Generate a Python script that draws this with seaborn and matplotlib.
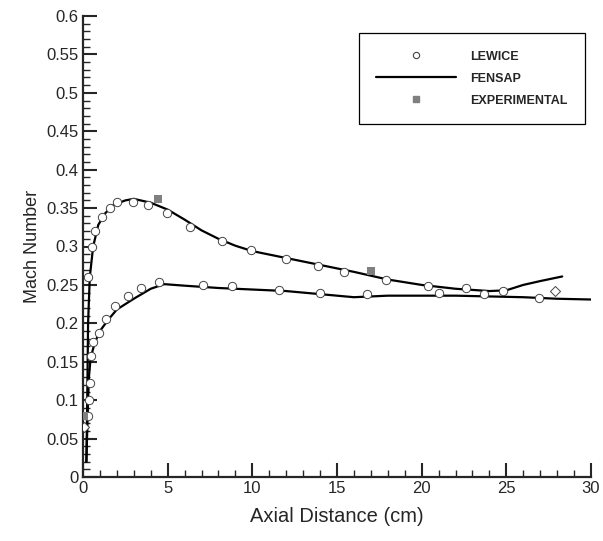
import numpy as np
import pandas as pd
import matplotlib
matplotlib.use('Agg')
import matplotlib.pyplot as plt
from matplotlib.lines import Line2D
import seaborn as sns

# FENSAP 곡선 (위쪽 / 아래쪽)
fensap_up_x = [0.2, 0.25, 0.3, 0.4, 0.6, 0.9, 1.3, 1.8, 2.5, 3.0, 4.0, 5.0, 6.0, 7.0, 8.0, 9.0, 10.0, 12.0,
               14.0, 16.0, 18.0, 20.0, 22.0, 24.0, 25.0, 26.0, 27.0, 28.3]
fensap_up_y = [0.02, 0.10, 0.20, 0.26, 0.30, 0.328, 0.343, 0.354, 0.360, 0.362, 0.357, 0.348, 0.335, 0.321,
               0.310, 0.301, 0.294, 0.285, 0.276, 0.267, 0.257, 0.250, 0.245, 0.242, 0.243, 0.250, 0.255, 0.261]
fensap_lo_x = [0.2, 0.25, 0.3, 0.35, 0.45, 0.7, 1.0, 1.5, 2.0, 3.0, 4.0, 4.8, 6.0, 8.0, 10.0, 12.0, 14.0,
               16.0, 18.0, 20.0, 22.0, 24.0, 26.0, 28.0, 30.0]
fensap_lo_y = [0.02, 0.06, 0.10, 0.13, 0.155, 0.175, 0.19, 0.205, 0.218, 0.232, 0.245, 0.251, 0.249, 0.246,
               0.244, 0.242, 0.238, 0.234, 0.236, 0.236, 0.236, 0.235, 0.234, 0.232, 0.231]

# LEWICE 점
lewice_x = [0.3, 0.53, 0.71, 1.12, 1.6, 2.0, 2.95, 3.84, 4.96, 6.3, 8.2, 9.9, 12.0, 13.9, 15.4, 17.9,
            20.4, 22.6, 24.8,
            0.3, 0.35, 0.4, 0.45, 0.6, 0.94, 1.36, 1.9, 2.66, 3.43, 4.5, 7.1, 8.8, 11.6, 14.0, 16.8,
            21.0, 23.7, 26.9]
lewice_y = [0.26, 0.30, 0.32, 0.338, 0.350, 0.358, 0.358, 0.354, 0.344, 0.325, 0.307, 0.296, 0.284,
            0.275, 0.267, 0.256, 0.248, 0.246, 0.242,
            0.08, 0.10, 0.122, 0.157, 0.176, 0.187, 0.206, 0.222, 0.236, 0.246, 0.254, 0.250, 0.248,
            0.243, 0.239, 0.238, 0.239, 0.238, 0.233]
diamond_x = [0.03, 27.9]
diamond_y = [0.065, 0.242]

# 실험값
exp_x = [0.05, 4.43, 17.0]
exp_y = [0.08, 0.362, 0.268]

sns.set_style('ticks')
plt.rcParams['font.family'] = ['Liberation Sans', 'DejaVu Sans']

fig = plt.figure(figsize=(6.03, 5.41), dpi=100)
ax = fig.add_axes([83 / 603, 1 - 477 / 541, (591 - 83) / 603, (477 - 16) / 541])

fensap_df = pd.DataFrame({
    'x': fensap_up_x + fensap_lo_x,
    'y': fensap_up_y + fensap_lo_y,
    'curve': ['up'] * len(fensap_up_x) + ['lo'] * len(fensap_lo_x),
})
sns.lineplot(data=fensap_df, x='x', y='y', units='curve', estimator=None, sort=False,
             color='black', linewidth=1.6, ax=ax, zorder=2)
sns.scatterplot(x=lewice_x, y=lewice_y, marker='o', s=36, facecolors='white',
                edgecolor='#444444', linewidth=0.7, ax=ax, zorder=3)
sns.scatterplot(x=diamond_x, y=diamond_y, marker='D', s=26, facecolors='white',
                edgecolor='#444444', linewidth=0.7, ax=ax, zorder=3)
sns.scatterplot(x=exp_x, y=exp_y, marker='s', s=40, color='#808080', edgecolor='#808080',
                linewidth=0, ax=ax, zorder=4)

ax.set_xlim(0, 30)
ax.set_ylim(0, 0.6)
ax.set_xticks(np.arange(0, 31, 5))
ax.set_xticks(np.arange(0, 31, 1), minor=True)
ax.set_yticks(np.arange(0, 0.61, 0.05))
ax.set_yticks(np.arange(0, 0.601, 0.01), minor=True)
ax.set_xticklabels(['0', '5', '10', '15', '20', '25', '30'])
ax.set_yticklabels(['0', '0.05', '0.1', '0.15', '0.2', '0.25', '0.3', '0.35', '0.4', '0.45',
                    '0.5', '0.55', '0.6'])
ax.tick_params(which='major', direction='in', length=10, width=1.5, labelsize=12, pad=3)
ax.tick_params(which='minor', direction='in', length=5, width=1.0)
sns.despine(ax=ax)
for s in ['left', 'bottom']:
    ax.spines[s].set_linewidth(1.6)

ax.set_xlabel('Axial Distance (cm)', fontsize=14.5, labelpad=8)
ax.set_ylabel('Mach Number', fontsize=13, labelpad=4)

handles = [
    Line2D([], [], marker='o', linestyle='', markersize=4.5, markerfacecolor='white',
           markeredgecolor='#444444', markeredgewidth=0.8),
    Line2D([], [], color='black', linewidth=1.6),
    Line2D([], [], marker='s', linestyle='', markersize=5, color='#808080'),
]
leg = ax.legend(handles, ['LEWICE', 'FENSAP', 'EXPERIMENTAL'], loc='upper right',
                bbox_to_anchor=(0.988, 0.963), borderaxespad=0, frameon=True, fancybox=False,
                edgecolor='black', framealpha=1, handlelength=6.4, handletextpad=1.1,
                borderpad=1.4, labelspacing=0.8, prop={'weight': 'bold', 'size': 9})
leg.get_frame().set_linewidth(0.9)

fig.savefig('out.png', dpi=100)
